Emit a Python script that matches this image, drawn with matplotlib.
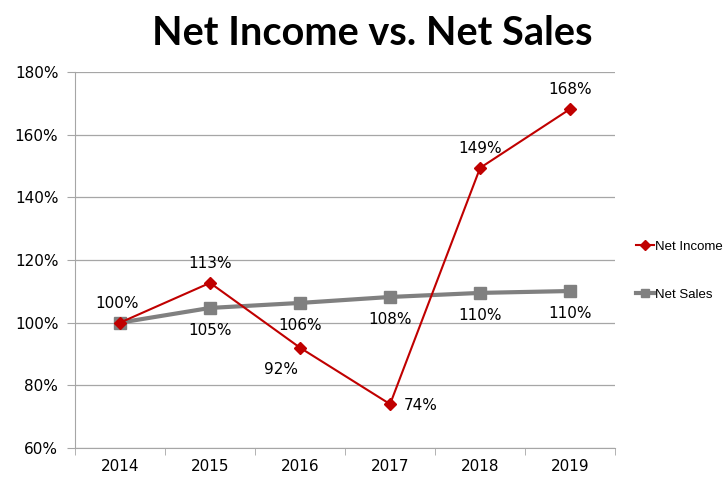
#!/usr/bin/env python3

import matplotlib.pyplot as plt
from matplotlib.ticker import FuncFormatter, FixedLocator


YEARS = ["2014", "2015", "2016", "2017", "2018", "2019"]
NET_INCOME = [100, 112.7, 92.0, 74.0, 149.4, 168.2]
NET_SALES = [100, 104.7, 106.3, 108.2, 109.5, 110.1]
INCOME_LABELS = ["100%", "113%", "92%", "74%", "149%", "168%"]
SALES_LABELS = ["105%", "106%", "108%", "110%", "110%"]

RED = "#c00000"
GRAY = "#808080"


def main() -> int:
    fig = plt.figure(figsize=(7.28, 4.79), dpi=100)
    ax = fig.add_axes([0.103, 0.0647, 0.742, 0.785])
    xs = list(range(len(YEARS)))

    ax.plot(xs, NET_SALES, color=GRAY, linewidth=3, marker="s", markersize=8,
            label="Net Sales", zorder=3)
    ax.plot(xs, NET_INCOME, color=RED, linewidth=1.5, marker="D", markersize=6,
            label="Net Income", zorder=4)

    ax.set_xlim(-0.5, len(YEARS) - 0.5)
    ax.set_ylim(60, 180)
    ax.set_yticks(range(60, 181, 20))
    ax.yaxis.set_major_formatter(FuncFormatter(lambda v, _: f"{v:.0f}%"))
    ax.set_xticks(xs)
    ax.set_xticklabels(YEARS)
    ax.xaxis.set_minor_locator(FixedLocator([x - 0.5 for x in range(len(YEARS) + 1)]))
    ax.tick_params(axis="x", which="major", length=0, pad=8, labelsize=11)
    ax.tick_params(axis="x", which="minor", length=5, color="#a6a6a6")
    ax.tick_params(axis="y", length=6, color="#a6a6a6", labelsize=11, pad=6)
    ax.grid(axis="y", color="#a6a6a6", linewidth=0.9)
    for side in ["top", "right"]:
        ax.spines[side].set_visible(False)
    for side in ["left", "bottom"]:
        ax.spines[side].set_color("#a6a6a6")

    # data labels
    income_offsets = [(-2, 14), (0, 14), (-14, -16), (22, -1), (0, 14), (0, 14)]
    for x, y, text, (dx, dy) in zip(xs, NET_INCOME, INCOME_LABELS, income_offsets):
        ax.annotate(text, (x, y), xytext=(dx, dy), textcoords="offset points",
                    ha="center", va="center", fontsize=11)
    for x, y, text in zip(xs[1:], NET_SALES[1:], SALES_LABELS):
        ax.annotate(text, (x, y), xytext=(0, -16), textcoords="offset points",
                    ha="center", va="center", fontsize=11)

    handles, labels = ax.get_legend_handles_labels()
    fig.legend(handles[::-1], labels[::-1], loc="center left",
               bbox_to_anchor=(0.858, 0.435), frameon=False,
               prop={"family": "Liberation Sans", "size": 9.5},
               handlelength=1.3, handletextpad=0.1, labelspacing=2.7,
               markerscale=0.8)

    fig.text(0.511, 0.93, "Net Income vs. Net Sales", ha="center", va="center",
             fontsize=28.5, fontweight="bold", family="Lato")

    fig.savefig("out.png", dpi=100)
    plt.close(fig)
    return 0


if __name__ == "__main__":
    raise SystemExit(main())
